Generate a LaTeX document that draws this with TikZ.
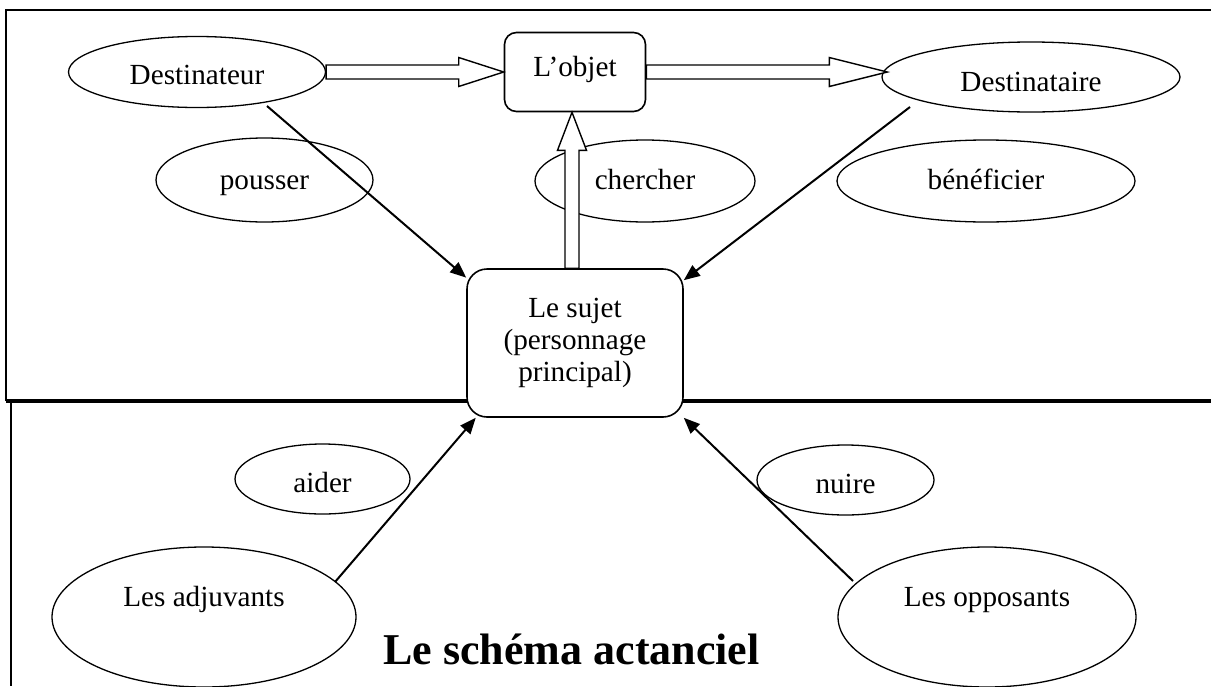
\documentclass[tikz,border=0pt]{standalone}
\usepackage{fontspec}
\setmainfont{Liberation Serif}
\usetikzlibrary{calc,shapes.geometric,arrows.meta}
\tikzset{
  txt/.style={font=\fontsize{14.6}{16}\selectfont},
  lbl/.style={ellipse, draw, line width=0.65pt, inner sep=0pt, txt, text height=10pt, text depth=2pt},
  actor/.style={ellipse, draw, line width=0.65pt, inner sep=0pt, txt, fill=white},
  box/.style={rectangle, draw, line width=0.8pt, fill=white, inner sep=0pt, align=center, txt},
  linkarrow/.style={line width=1pt, -{Triangle[length=8pt,width=6.5pt]}},
  hollow/.style={draw, fill=white, line width=0.7pt, line join=miter},
  framelw/.style={line width=1.3pt}
}
\newcommand\hollowarrow[3]{%
  \coordinate (ha) at (#1);
  \coordinate (hb) at (#2);
  \coordinate (hh) at ($(hb)!#3!(ha)$);
  \draw[hollow] ($(ha)!3.5pt!90:(hb)$) -- ($(hh)!3.5pt!90:(hb)$) -- ($(hh)!7.25pt!90:(hb)$) -- (hb)
    -- ($(hh)!7.25pt!-90:(hb)$) -- ($(hh)!3.5pt!-90:(hb)$) -- ($(ha)!3.5pt!-90:(hb)$) -- cycle;
}
\begin{document}
\begin{tikzpicture}[x=0.5pt,y=-0.5pt]
\useasboundingbox (0,0) rectangle (1211,686);
% frames
\draw[framelw] (6,401) -- (6,10) -- (1211,10);
\draw[line width=1pt] (11,401) -- (11,686);
\draw[line width=1.6pt] (5.5,401) -- (1211,401);
% verb ellipses
\node[lbl, minimum width=108.5pt, minimum height=42pt, text height=11pt, text depth=2pt] (pousser) at (264.5,180) {pousser};
\node[lbl, minimum width=110pt, minimum height=41pt] (chercher) at (645,181) {chercher};
\node[lbl, minimum width=149pt, minimum height=41pt] (benef) at (986,181) {bénéficier};
\node[lbl, minimum width=87.5pt, minimum height=35pt, text height=13pt, text depth=0pt] (aider) at (322.5,479) {aider};
\node[lbl, minimum width=88.5pt, minimum height=35pt, text height=13pt, text depth=0pt] (nuire) at (845.5,480) {nuire};
% actants
\node[actor, minimum width=128.5pt, minimum height=35.5pt, text height=12pt, text depth=0pt] (dest) at (197,72) {Destinateur};
\node[actor, minimum width=149pt, minimum height=35pt, text height=14pt, text depth=0pt] (destinataire) at (1031,77) {Destinataire};
\node[box, minimum width=70.5pt, minimum height=39.5pt, rounded corners=6pt, text height=10pt, text depth=6pt] (objet) at (575,72) {L’objet};
\node[box, minimum width=108pt, minimum height=74pt, rounded corners=10pt] (sujet) at (575,343) {Le sujet\\(personnage\\principal)};
\node[actor, minimum width=152pt, minimum height=70pt, text height=10pt, text depth=20.4pt] (adj) at (204,617) {Les adjuvants};
\node[actor, minimum width=149pt, minimum height=70pt, text height=10pt, text depth=20.4pt] (opp) at (987,617) {Les opposants};
% title
\node[font=\fontsize{22}{26}\selectfont\bfseries] (title) at (571.5,649) {Le schéma actanciel};
% hollow arrows
\hollowarrow{dest.east}{objet.west}{22.5pt}
\hollowarrow{objet.east}{$(objet.east -| destinataire.west)+(6,0)$}{29pt}
\hollowarrow{$(sujet.north)+(-3,0)$}{$(objet.south)+(-3,0)$}{19pt}
% line arrows
\draw[linkarrow] ($(dest.center)+(70,34)$) -- (sujet.149);
\draw[linkarrow] ($(destinataire.center)+(-121,30)$) -- (sujet.30);
\draw[linkarrow] ($(adj.center)+(131,-35)$) -- (sujet.217);
\draw[linkarrow] ($(opp.center)+(-134,-36)$) -- (sujet.south east);
\end{tikzpicture}
\end{document}
